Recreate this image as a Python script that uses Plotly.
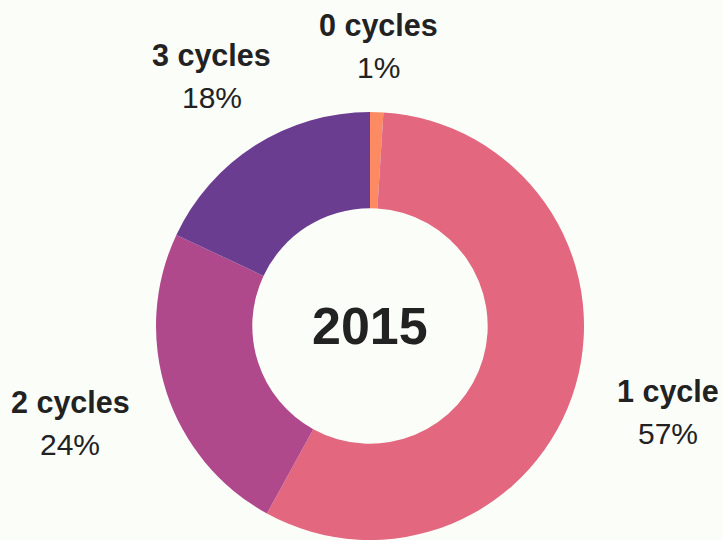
import math
import plotly.graph_objects as go

categories = ["0 cycles", "1 cycle", "2 cycles", "3 cycles"]
shares = [1, 57, 24, 18]
center_label = "2015"

colors = ["#fc8a62", "#e2677f", "#b0498b", "#6a3d91"]
label_radius_px = [280, 310, 315, 295]   # distance of label block from pie centre (px)

W, H = 723, 540
cx, cy, R = 370, 326, 214  # pixel geometry of pie
BG = "#fbfdf9"

fig = go.Figure()
fig.add_trace(go.Pie(
    labels=categories,
    values=shares,
    hole=0.55,
    sort=False,
    direction="clockwise",
    rotation=0,
    textinfo="none",
    hoverinfo="label+percent",
    marker=dict(colors=colors, line=dict(width=0)),
    domain=dict(x=[(cx - R) / W, (cx + R) / W], y=[0, (2 * R) / H]),
    showlegend=False,
))

total = sum(shares)
cum = 0
annotations = []
FONT = "Liberation Sans, Arial, sans-serif"
for name, v, rl in zip(categories, shares, label_radius_px):
    mid = (cum + v / 2) / total
    cum += v
    ang = 2 * math.pi * mid
    px = cx + rl * math.sin(ang)
    py = cy - rl * math.cos(ang)
    annotations.append(dict(
        x=px / W, y=1 - (py - 21) / H, xref="paper", yref="paper",
        text=f"<b>{name}</b>", showarrow=False, xanchor="center", yanchor="middle",
        font=dict(family=FONT, size=30.5, color="#222222"),
    ))
    annotations.append(dict(
        x=px / W, y=1 - (py + 21) / H, xref="paper", yref="paper",
        text=f"{round(100 * v / total)}%", showarrow=False, xanchor="center", yanchor="middle",
        font=dict(family=FONT, size=30, color="#222222"),
    ))

annotations.append(dict(
    x=cx / W, y=1 - cy / H, xref="paper", yref="paper",
    text=f"<b>{center_label}</b>", showarrow=False, xanchor="center", yanchor="middle",
    font=dict(family=FONT, size=52, color="#222222"),
))

fig.update_layout(
    width=W, height=H,
    margin=dict(l=0, r=0, t=0, b=0),
    paper_bgcolor=BG,
    plot_bgcolor=BG,
    annotations=annotations,
)

post = (
    "document.body.style.margin='0';"
    "document.body.style.padding='0';"
    "document.body.style.overflow='hidden';"
    f"document.body.style.background='{BG}';"
)
fig.write_html("out.html", post_script=post, config={"displayModeBar": False})
